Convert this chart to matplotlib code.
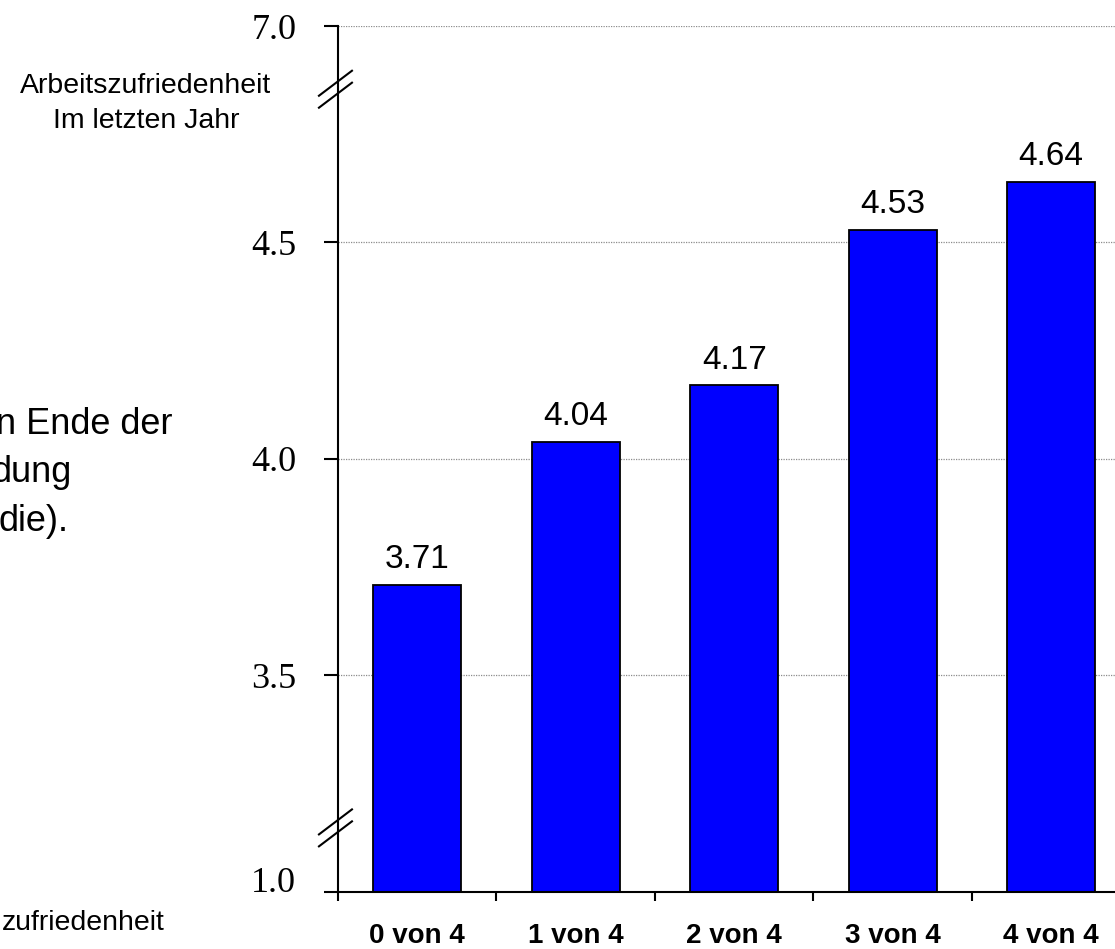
import numpy as np
import matplotlib
matplotlib.use("Agg")
import matplotlib.pyplot as plt
from matplotlib.ticker import FixedLocator

categories = ["0 von 4", "1 von 4", "2 von 4", "3 von 4", "4 von 4"]
means = [3.71, 4.04, 4.17, 4.53, 4.64]
y_ticks = [1.0, 3.5, 4.0, 4.5, 7.0]
y_ticklabels = ["1.0", "3.5", "4.0", "4.5", "7.0"]

SANS = ["Liberation Sans", "DejaVu Sans"]
SERIF = ["Liberation Serif", "DejaVu Serif"]

# broken axis: linear between the breaks, the outer stretches squeezed
BREAK_REAL = [1.0, 3.15, 4.855, 7.0]
BREAK_AXIS = [3.0, 3.15, 4.855, 5.0]


def forward(v):
    return np.interp(np.asarray(v, dtype=float), BREAK_REAL, BREAK_AXIS)


def inverse(t):
    return np.interp(np.asarray(t, dtype=float), BREAK_AXIS, BREAK_REAL)


fig = plt.figure(figsize=(11.15, 9.49), dpi=100)
ax = fig.add_axes([0.3031, 0.0601, 0.7108, 0.9125])
ax.set_yscale("function", functions=(forward, inverse))

x = np.arange(len(categories))
bars = ax.bar(x, np.array(means) - y_ticks[0], bottom=y_ticks[0], width=0.555,
              color="#0000ff", edgecolor="black", linewidth=1.3, zorder=2)

for xi, m in zip(x, means):
    ax.annotate(f"{m:.2f}", (xi, m), xytext=(0, 12), textcoords="offset points",
                ha="center", va="baseline", fontsize=24, family=SANS)

ax.set_xlim(-0.5, len(categories) - 0.5)
ax.set_ylim(y_ticks[0], y_ticks[-1])

ax.yaxis.set_major_locator(FixedLocator(y_ticks))
ax.set_yticklabels(y_ticklabels, family=SERIF, fontsize=26)
ax.tick_params(axis="y", direction="out", length=10, width=1.5, pad=20)
ax.get_yticklabels()[0].set_verticalalignment("baseline")

ax.set_xticks(x)
ax.set_xticklabels(categories, fontsize=20, fontweight="bold", family=SANS)
ax.set_xticks(np.arange(-0.5, len(categories)), minor=True)
ax.tick_params(axis="x", which="major", length=0, pad=22.5)
ax.tick_params(axis="x", which="minor", direction="out", length=6.5, width=1.5)

ax.set_axisbelow(True)
ax.yaxis.grid(True, color="#8c8c8c", linestyle=(0, (1, 1)), linewidth=0.9)

for side in ("top", "right"):
    ax.spines[side].set_visible(False)
for side in ("left", "bottom"):
    ax.spines[side].set_linewidth(1.5)

# double-slash break marks on the y axis
w_px, h_px = 792.5, 866.0
for yc in (0.927, 0.074):
    for dy in (0.0069, -0.0069):
        ax.plot([-19 / w_px, 14 / w_px],
                [yc + dy - 12.5 / h_px, yc + dy + 12.5 / h_px],
                transform=ax.transAxes, color="black", linewidth=1.5,
                clip_on=False, zorder=5)

# side captions
fig.text(146 / 1115, 1 - 93 / 949, "Arbeitszufriedenheit", ha="center",
         va="baseline", fontsize=20.5, family=SANS)
fig.text(146 / 1115, 1 - 128 / 949, "Im letzten Jahr", ha="center",
         va="baseline", fontsize=20.5, family=SANS)

fig.text(172 / 1115, 1 - 434 / 949, "n Ende der", ha="right", va="baseline",
         fontsize=26, family=SANS)
fig.text(72 / 1115, 1 - 482 / 949, "dung", ha="right", va="baseline",
         fontsize=26, family=SANS)
fig.text(68 / 1115, 1 - 531 / 949, "die).", ha="right", va="baseline",
         fontsize=26, family=SANS)

fig.text(165 / 1115, 1 - 930 / 949, "zufriedenheit", ha="right", va="baseline",
         fontsize=20.5, family=SANS)

fig.savefig("out.png", dpi=100)
